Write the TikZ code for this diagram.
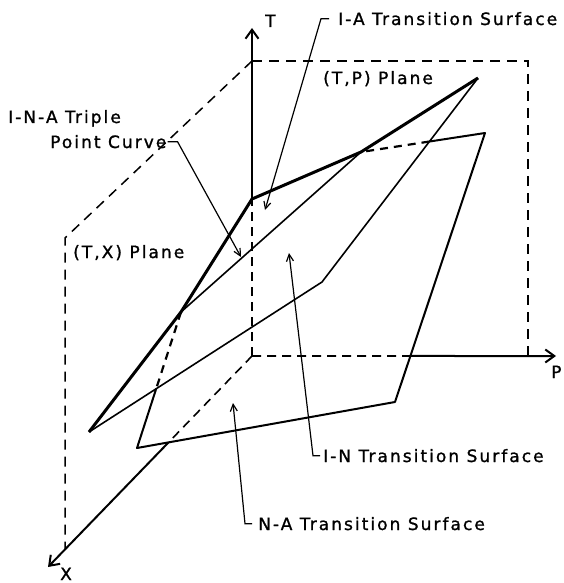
\documentclass[tikz,border=0pt]{standalone}
\usepackage{fontspec}
\setmainfont{DejaVu Sans}
\newfontfamily\lettering[LetterSpace=12,FakeBold=1.2]{DejaVu Sans}
\usetikzlibrary{arrows.meta,calc}

\begin{document}
\begin{tikzpicture}[x=1pt, y=-1pt,
    lbl/.style={font={\lettering\fontsize{17pt}{20pt}\selectfont}, inner sep=0pt, anchor=base west},
    axis/.style={line width=2pt, -{Straight Barb[length=9pt,width=13pt,line width=2pt]}},
    axishidden/.style={line width=1.6pt, dash pattern=on 9pt off 6pt},
    plane/.style={line width=1.5pt, dash pattern=on 10pt off 7pt},
    hidden/.style={line width=2.2pt, dash pattern=on 8pt off 6pt},
    heavy/.style={line width=3pt, line join=round},
    edge/.style={line width=2pt, line join=round},
    fine/.style={line width=1.6pt, line join=round},
    leader/.style={line width=1.2pt, -{Straight Barb[length=7pt,width=7pt,line width=1.2pt]}}]
  \useasboundingbox (0,0) rectangle (564,583);

  % axes and reference planes
  \coordinate (O) at (252,356);
  \coordinate (Ttip) at (252,28);
  \coordinate (Ptip) at (556,356);
  \coordinate (Xtip) at (48,567);
  \coordinate (TPtop) at (252,61);
  \coordinate (TPcorner) at (528,61);
  \coordinate (TPfoot) at (528,356);
  \coordinate (TXtop) at (65,238);
  \coordinate (TXfoot) at (65,549);

  % transition surfaces
  \coordinate (V1) at (252,199);
  \coordinate (V2) at (478,78);
  \coordinate (V3) at (485,133);
  \coordinate (V4) at (89,432);
  \coordinate (V5) at (137,448);
  \coordinate (V6) at (395,402);
  \coordinate (V7) at (322,282);
  \coordinate (P1) at (181,312);
  \coordinate (P2) at (361,152);

  % where lines go out of sight
  \coordinate (H1) at (intersection of P2--V3 and V7--V2);
  \coordinate (H2) at (intersection of P1--V5 and V4--V7);
  \coordinate (HX) at (intersection of O--Xtip and V5--V6);
  \coordinate (HP) at (intersection of O--Ptip and V6--V3);

  \draw[plane] (TPtop) -- (TPcorner) -- (TPfoot);
  \draw[plane] (TPtop) -- (TXtop) -- (TXfoot);

  \draw[axishidden] (O) -- (V1);
  \draw[axishidden] (O) -- (HP);
  \draw[axishidden] (O) -- (HX);
  \draw[axis] (V1) -- (Ttip);
  \draw[axis] (HP) -- (Ptip);
  \draw[axis] (HX) -- (Xtip);

  \draw[heavy] (V4) -- (P1) -- (V1) -- (P2) -- (V2);
  \draw[fine] (V4) -- (V7) -- (V2);
  \draw[fine] (P1) -- (P2);
  \draw[hidden] (P1) -- (H2);
  \draw[edge] (H2) -- (V5) -- (V6) -- (V3) -- (H1);
  \draw[hidden] (H1) -- (P2);

  % labels
  \node[lbl] (tlab) at (265,27) {T};
  \node[lbl] (plab) at (551,378) {P};
  \node[lbl] (xlab) at (60,580) {X};
  \node[lbl] (tp) at (323,84) {(T,P) Plane};
  \node[lbl] (tx) at (73,258) {(T,X) Plane};
  \node[lbl] (ina) at (8,123) {I-N-A Triple};
  \node[lbl] (pc) at (50,148) {Point Curve};
  \node[lbl] (ia) at (338,25) {I-A Transition Surface};
  \node[lbl] (in) at (323,462) {I-N Transition Surface};
  \node[lbl] (na) at (258,530) {N-A Transition Surface};

  \coordinate (pcTip) at (241,257);
  \coordinate (iaTip) at (265,210);
  \coordinate (inTip) at (289,253);
  \coordinate (naTip) at (233,403);

  \draw[leader] ([xshift=1pt]pc.east) -- ++(10,0) -- (pcTip);
  \draw[leader] ([xshift=-9pt]ia.west) -- ++(-8,0) -- (iaTip);
  \draw[leader] ([xshift=-3pt]in.west) -- ++(-7,0) -- (inTip);
  \draw[leader] ([xshift=-6pt]na.west) -- ++(-7,0) -- (naTip);
\end{tikzpicture}
\end{document}
